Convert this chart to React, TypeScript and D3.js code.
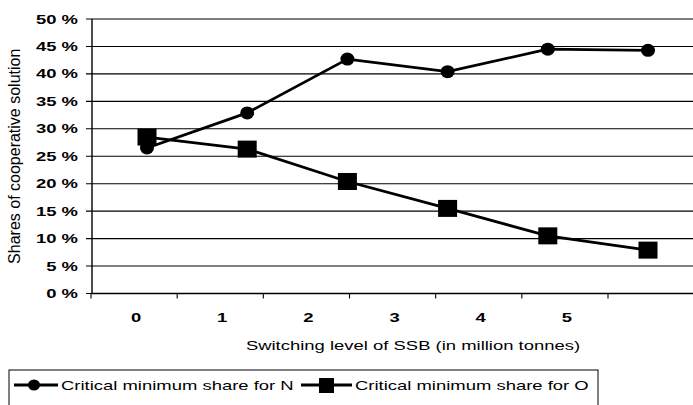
import React from "react";
import * as d3 from "d3";

const categories = ["0", "1", "2", "3", "4", "5"];
const seriesN = [0.265, 0.329, 0.427, 0.404, 0.445, 0.443];
const seriesO = [0.285, 0.263, 0.204, 0.155, 0.105, 0.079];
const yTicks = [0, 0.05, 0.1, 0.15, 0.2, 0.25, 0.3, 0.35, 0.4, 0.45, 0.5];
const seriesNames = ["Critical minimum share for N", "Critical minimum share for O"];
const xTitle = "Switching level of SSB (in million tonnes)";
const yTitle = "Shares of cooperative solution";

const W = 693;
const H = 405;
const SX = 1.42;
const FONT = "Arial, 'Liberation Sans', sans-serif";

function SText({ x, y, anchor = "start", weight = "normal", size = 13, children }: any) {
  return (
    <g transform={`translate(${x},${y}) scale(${SX},1)`}>
      <text x={0} y={0} textAnchor={anchor} fontWeight={weight} fontSize={size} fontFamily={FONT} fill="#000">
        {children}
      </text>
    </g>
  );
}

export default function App() {
  const left = 92;
  const right = 693;
  const top = 19;
  const bottom = 293.5;
  const y = d3.scaleLinear().domain([0, 0.5]).range([bottom, top]);
  const xPt = d3.scalePoint<string>().domain(categories).range([147, 648]);
  const xAxis = d3.scaleBand<string>().domain(categories).range([91, 608]);

  const line = d3
    .line<number>()
    .x((_, i) => xPt(categories[i])!)
    .y((d) => y(d));

  const fmt = (v: number) => `${Math.round(v * 100)} %`;
  const tickPositions = [...categories.map((c) => xAxis(c)!), xAxis.range()[1]];

  return (
    <svg width={W} height={H} style={{ position: "absolute", left: 0, top: 0, background: "#fff" }}>
      <rect x={0} y={0} width={W} height={H} fill="#fff" />
      {/* gridlines */}
      {yTicks.map((t) => (
        <line key={t} x1={left - 6} x2={right} y1={y(t)} y2={y(t)} stroke="#000" strokeWidth={1.1} />
      ))}
      {/* y axis */}
      <line x1={left} x2={left} y1={top} y2={bottom + 0.5} stroke="#000" strokeWidth={1.4} />
      {yTicks.map((t) => (
        <SText key={"yl" + t} x={78} y={y(t) + 4.5} anchor="end" weight="bold">
          {fmt(t)}
        </SText>
      ))}
      {/* x axis */}
      <line x1={91} x2={right} y1={bottom} y2={bottom} stroke="#000" strokeWidth={1.4} />
      {tickPositions.map((p, i) => (
        <line key={"xt" + i} x1={p} x2={p} y1={bottom} y2={bottom + 5} stroke="#000" strokeWidth={1.1} />
      ))}
      {categories.map((c) => (
        <SText key={"xl" + c} x={xAxis(c)! + xAxis.bandwidth() / 2 + 2} y={322} anchor="middle" weight="bold">
          {c}
        </SText>
      ))}
      {/* series lines */}
      <path d={line(seriesN)!} fill="none" stroke="#000" strokeWidth={2.8} />
      <path d={line(seriesO)!} fill="none" stroke="#000" strokeWidth={2.8} />
      {seriesN.map((v, i) => (
        <ellipse key={"n" + i} cx={xPt(categories[i])!} cy={y(v)} rx={7} ry={6.5} fill="#000" />
      ))}
      {seriesO.map((v, i) => (
        <rect key={"o" + i} x={xPt(categories[i])! - 9.5} y={y(v) - 8.5} width={19} height={17} fill="#000" />
      ))}
      {/* axis titles */}
      <text
        transform={`translate(20,${(top + bottom) / 2}) rotate(-90)`}
        textAnchor="middle"
        fontSize={16}
        fontFamily={FONT}
        fill="#000"
      >
        {yTitle}
      </text>
      <SText x={413} y={350} anchor="middle">
        {xTitle}
      </SText>
      {/* legend */}
      <rect x={9} y={370} width={589} height={40} fill="none" stroke="#000" strokeWidth={1} />
      <line x1={14} x2={58} y1={385} y2={385} stroke="#000" strokeWidth={2.8} />
      <ellipse cx={34} cy={385} rx={6} ry={5.5} fill="#000" />
      <SText x={61} y={390}>{seriesNames[0]}</SText>
      <line x1={301} x2={352} y1={385} y2={385} stroke="#000" strokeWidth={2.8} />
      <rect x={319} y={378} width={15} height={15} fill="#000" />
      <SText x={355} y={390}>{seriesNames[1]}</SText>
    </svg>
  );
}
